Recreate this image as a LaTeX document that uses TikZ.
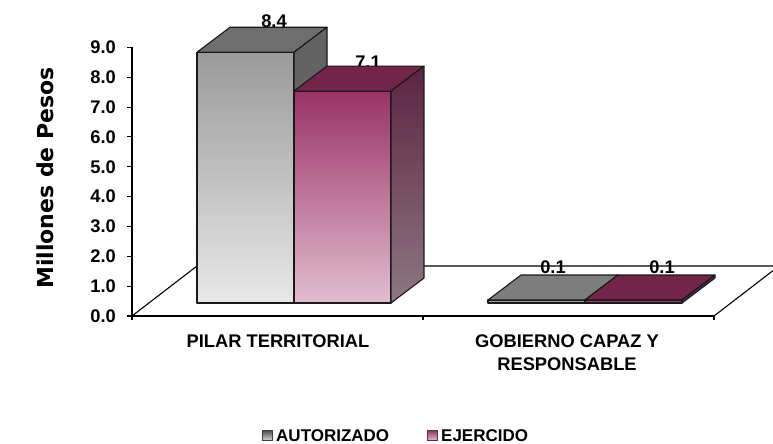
\documentclass[tikz,border=0pt]{standalone}
\usepackage{fontspec}
\setmainfont{Liberation Sans}
\newfontfamily\titlefont{DejaVu Sans}
\usetikzlibrary{
  calc,
  positioning
}
\definecolor{grayfront}{HTML}{9A9A9A}
\definecolor{grayfrontlow}{HTML}{E8E8E8}
\definecolor{graytop}{HTML}{6E6E6E}
\definecolor{grayside}{HTML}{636363}
\definecolor{pinkfront}{HTML}{993366}
\definecolor{pinkfrontlow}{HTML}{E2BDD0}
\definecolor{pinktop}{HTML}{732449}
\definecolor{pinkside}{HTML}{5C2442}
\definecolor{pinksidelow}{HTML}{8E7782}
\tikzset{
  % For the faces of the bars.
  barface/.style={
    draw=black!90,
    line width=1.1pt,
    line join=round},
%
  % For axes and the floor.
  axisline/.style={
    line width=1.1pt},
%
  % For all the chart texts.
  charttext/.style={
    font=\fontsize{18.3}{23}\selectfont\bfseries,
    inner sep=0pt},
%
  % For the legend texts.
  legendtext/.style={
    font=\fontsize{17}{20}\selectfont\bfseries,
    inner sep=0pt,
    anchor=west},
%
  % For the legend keys.
  legendkey/.style={
    draw=black!75,
    line width=1pt,
    minimum size=10pt,
    inner sep=0pt},
}
% One bar: left x, value, front shading, top colour, side shading.
\newcommand\chartbar[5]{%
  \pgfmathsetmacro\bartop{303-29.85*#2}%
  \path[barface,#3] (#1,303) rectangle (#1+97,\bartop);
  \path[barface,fill=#4] (#1,\bartop) -- ++(33,-25) -- ++(97,0)
    -- (#1+97,\bartop) -- cycle;
  \path[barface,#5] (#1+97,303) -- (#1+97,\bartop) -- ++(33,-25)
    -- (#1+130,278) -- cycle;
}

\begin{document}
\begin{tikzpicture}[x=1pt,y=-1pt]
  \useasboundingbox (0,0) rectangle (773,444);
  \clip (0,0) rectangle (773,444);

  % value labels, partly hidden behind the bars
  \node[charttext] (v1) at (274,21) {8.4};
  \node[charttext] (v2) at (368,62) {7.1};
  \node[charttext] (v3) at (553,267) {0.1};
  \node[charttext] (v4) at (662,267) {0.1};

  % floor
  \coordinate (f0) at (132,316);
  \coordinate (f1) at (197,266);
  \coordinate (f2) at (779,266);
  \coordinate (f3) at (714,316);
  \draw[axisline] (f0) -- (f1) -- (f2) -- (f3);

  % axes
  \coordinate (y9) at (132,47);
  \draw[axisline] (y9) -- (f0) -- (f3);
  \foreach \k in {0,...,9}{
    \draw[axisline] (127,316-29.85*\k) -- (132,316-29.85*\k);
    \node[charttext,anchor=east] (t\k) at (116,316-29.85*\k) {\k.0};
  }
  \foreach \x in {132,423,714}
    \draw[axisline] (\x,316) -- (\x,320);

  % bars
  \chartbar{197}{8.4}{top color=grayfront,bottom color=grayfrontlow}
    {graytop}{fill=grayside}
  \chartbar{294}{7.1}{top color=pinkfront,bottom color=pinkfrontlow}
    {pinktop}{top color=pinkside,bottom color=pinksidelow}
  \chartbar{488}{0.1}{fill=grayfront}
    {graytop!90!white}{fill=grayside}
  \chartbar{585}{0.1}{fill=pinkfront!80!gray}
    {pinktop}{fill=pinkside}

  % category labels
  \node[charttext] (c1) at (278,341) {PILAR TERRITORIAL};
  \node[charttext,align=center] (c2) at (567,352.5)
    {GOBIERNO CAPAZ Y\\RESPONSABLE};

  % axis title
  \node[font=\titlefont\fontsize{22}{26}\selectfont\bfseries,
    rotate=90,inner sep=0pt] (ytitle) at (45,178) {Millones de Pesos};

  % legend
  \node[legendkey,top color=black!70,bottom color=black!15] (k1) at (267.5,435.5) {};
  \node[legendtext] (l1) at (276,436) {AUTORIZADO};
  \node[legendkey,top color=pinkfront,bottom color=pinkfrontlow] (k2) at (432.5,435.5) {};
  \node[legendtext] (l2) at (441,436) {EJERCIDO};
\end{tikzpicture}
\end{document}
